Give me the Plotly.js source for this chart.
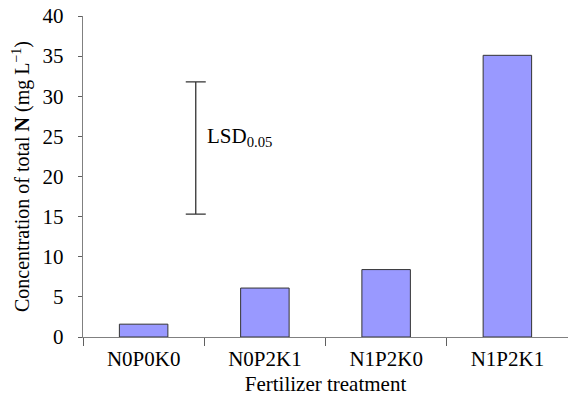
<!DOCTYPE html>
<html>
<head>
<meta charset="utf-8">
<script src="https://cdn.plot.ly/plotly-3.0.1.min.js"></script>
<style>
  html, body { margin: 0; padding: 0; background: #fff; }
  #chart { width: 568px; height: 400px; }
</style>
</head>
<body>
<div id="chart"></div>
<script>
// treatments and measured total N (mg/L)
var treatments = ['N0P0K0', 'N0P2K1', 'N1P2K0', 'N1P2K1'];
var totalN = [1.6, 6.1, 8.4, 35.1];

// LSD bar (drawn on a hidden linear x axis that overlays the category axis)
var lsdX = [0.43];
var lsdMid = [23.55];
var lsdHalf = [8.25];
var lsdLabel = 'LSD<sub>0.05</sub>';

var serif = 'Liberation Serif, Times New Roman, serif';

var bars = {
  type: 'bar',
  x: treatments,
  y: totalN,
  width: 0.4,
  marker: {
    color: '#9999ff',
    line: { color: '#333333', width: 1 }
  },
  hoverinfo: 'x+y'
};

var lsd = {
  type: 'scatter',
  mode: 'markers',
  x: lsdX,
  y: lsdMid,
  xaxis: 'x2',
  marker: { size: 1, color: 'rgba(0,0,0,0)' },
  error_y: {
    type: 'data',
    array: lsdHalf,
    visible: true,
    color: '#333333',
    thickness: 1.3,
    width: 10
  },
  hoverinfo: 'skip'
};

var layout = {
  width: 568,
  height: 400,
  margin: { l: 83, r: 0, t: 16, b: 63 },
  showlegend: false,
  paper_bgcolor: '#ffffff',
  plot_bgcolor: '#ffffff',
  font: { family: serif, size: 20, color: '#000000' },
  xaxis: {
    type: 'category',
    range: [-0.5, 3.5],
    showline: true,
    linecolor: '#808080',
    linewidth: 1.3,
    showgrid: false,
    zeroline: false,
    ticks: 'outside',
    tickson: 'boundaries',
    ticklen: 8,
    tickcolor: '#606060',
    ticklabelstandoff: 2,
    tickfont: { family: serif, size: 21 },
    title: { text: 'Fertilizer treatment', font: { family: serif, size: 21 }, standoff: 6 }
  },
  xaxis2: {
    overlaying: 'x',
    range: [-0.5, 3.5],
    visible: false
  },
  yaxis: {
    range: [0, 40],
    dtick: 5,
    showline: true,
    linecolor: '#808080',
    linewidth: 1.3,
    showgrid: false,
    zeroline: false,
    ticks: 'outside',
    ticklen: 4,
    tickcolor: '#606060',
    ticklabelstandoff: 10,
    tickfont: { family: serif, size: 21 },
    title: {
      text: 'Concentration of total <b>N</b> (mg L<sup>\u22121</sup>)',
      font: { family: serif, size: 20 },
      standoff: 7
    }
  },
  annotations: [{
    xref: 'x2',
    yref: 'y',
    x: lsdX[0],
    y: lsdMid[0],
    xanchor: 'left',
    yanchor: 'middle',
    xshift: 9,
    yshift: 11,
    showarrow: false,
    text: lsdLabel,
    font: { family: serif, size: 21, color: '#000000' }
  }]
};

Plotly.newPlot('chart', [bars, lsd], layout, { displayModeBar: false, staticPlot: true });
</script>
</body>
</html>
